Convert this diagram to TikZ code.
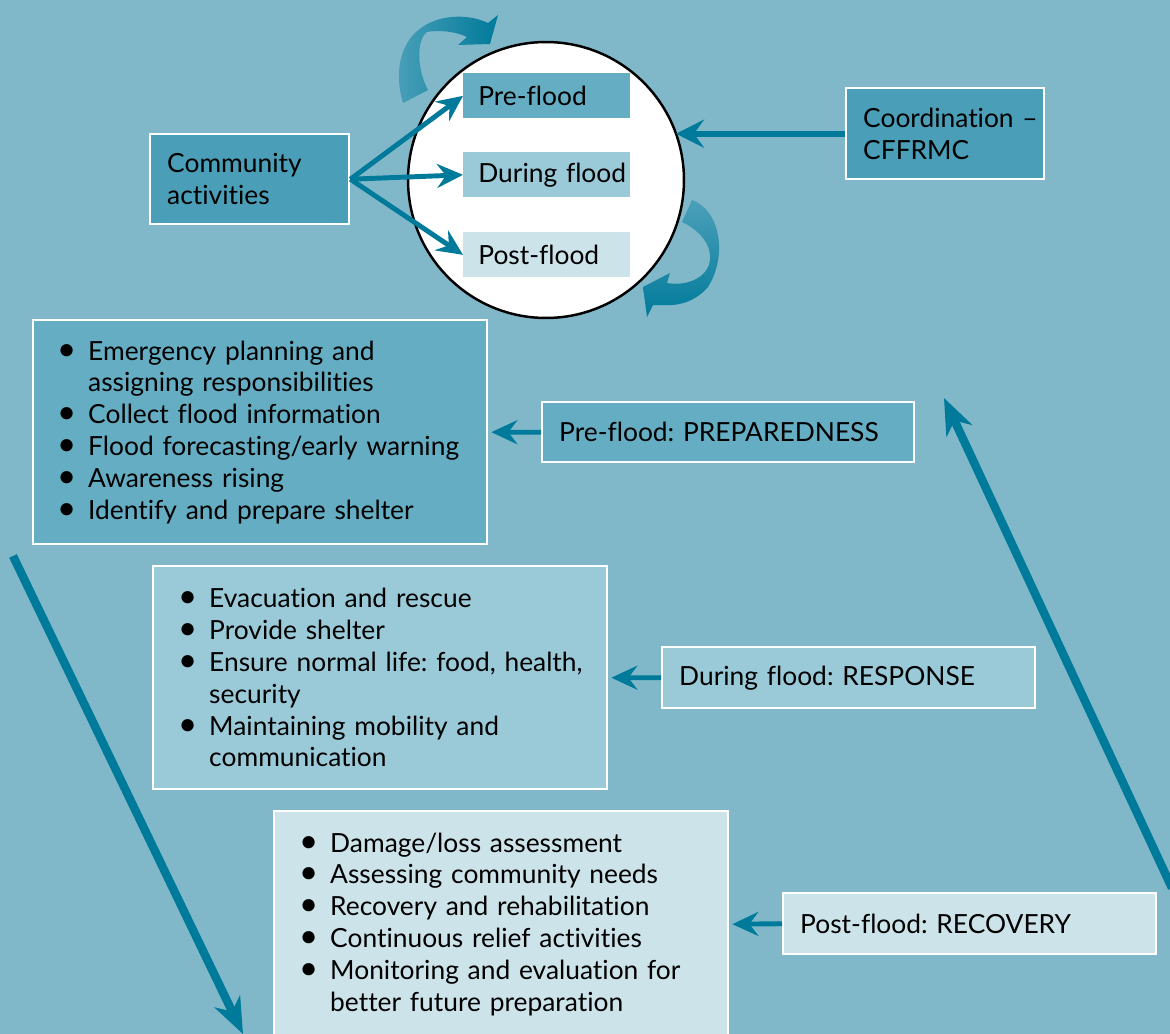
\documentclass[tikz,border=0pt]{standalone}
\usepackage{fontspec}
\setmainfont{Lato}[Ligatures=NoCommon]
\usetikzlibrary{arrows.meta,calc}
\newlength\px \setlength\px{0.02cm}
\definecolor{bgc}{HTML}{80B8CA}
\definecolor{cdark}{HTML}{4A9EB7}
\definecolor{cpre}{HTML}{64ADC3}
\definecolor{cdur}{HTML}{9AC9D8}
\definecolor{cpost}{HTML}{CCE3EA}
\definecolor{arr}{HTML}{007A9A}
\definecolor{arrlight}{HTML}{4CA0B9}
\newcommand\bl{\makebox[31\px][l]{\scalebox{1.25}{\textbullet}}}
\newcommand\ind{\hspace*{31\px}}
\newcommand\lp[1]{\leftskip=#1\px\relax}
\frenchspacing
\tikzset{
  txt/.style={font=\fontsize{15pt}{18.1pt}\selectfont\frenchspacing, text=black},
  box/.style={txt, draw=white, line width=1.4pt, anchor=north west, align=left, inner sep=0pt},
  inbox/.style={txt, anchor=north west, align=left, inner sep=0pt,
     minimum width=3.34cm, minimum height=0.9cm, text width=3.34cm},
  sarrow/.style={draw=arr, line width=2.8pt, -{Stealth[length=0.52cm,width=0.48cm,inset=0.18cm]}},
  carrow/.style={draw=arr, line width=3.6pt, -{Stealth[length=0.56cm,width=0.56cm,inset=0.2cm]}},
  larrow/.style={draw=arr, line width=4.8pt, -{Stealth[length=0.72cm,width=0.56cm,inset=0.22cm]}},
  curvedarrow/.style={draw=none}
}
\begin{document}
\begin{tikzpicture}[x=0.02cm,y=-0.02cm]
\useasboundingbox (0,0) rectangle (1170,1034);
\fill[bgc] (0,0) rectangle (1170,1034);

% long cycle arrows
\coordinate (la1) at (13,556);
\coordinate (la2) at (243,1034);
\coordinate (ra1) at (1172,888);
\coordinate (ra2) at (944,398);
\draw[larrow] (la1) -- (la2);
\draw[larrow] (ra1) -- (ra2);

% curved arrows around the circle
\shade[left color=arrlight, right color=arr, curvedarrow]
  (403,103) .. controls (393,70) and (400,30) .. (440,19)
  .. controls (460,14) and (478,18) .. (488,23) -- (498,15) -- (490,44) -- (458,45) -- (467,37)
  .. controls (455,31) and (437,30) .. (427,32)
  .. controls (416,40) and (417,70) .. (428,90) -- cycle;
\shade[top color=arrlight, bottom color=arr, curvedarrow]
  (692,200) .. controls (720,210) and (728,255) .. (708,287)
  .. controls (697,300) and (680,306) .. (667,305) -- (653,305) -- (647,317) -- (643,287)
  -- (670,273) -- (667,283) .. controls (690,287) and (712,275) .. (710,255)
  .. controls (709,240) and (695,228) .. (682,222) -- cycle;

% circle
\node[circle, draw=black, fill=white, line width=1.4pt, minimum size=5.52cm, inner sep=0pt] (circ) at (546,180) {};

% phase boxes in circle
\node[inbox, fill=cpre] (pre) at (463,73) {\lp{15}Pre-flood\par};
\node[inbox, fill=cdur] (dur) at (463,152) {\lp{15}During flood\par};
\node[inbox, fill=cpost] (post) at (463,232) {\lp{15}Post-flood\par};

% community & coordination
\node[box, fill=cdark, minimum width=3.98cm, minimum height=1.8cm, text width=3.98cm]
  (comm) at (149,133) {\lp{17}Community\\activities\par};
\node[box, fill=cdark, minimum width=3.96cm, minimum height=1.82cm, text width=3.96cm]
  (coord) at (845,87) {\lp{17}Coordination –\\CFFRMC\par};

\draw[sarrow] (comm.east) -- (pre.west);
\draw[sarrow] (comm.east) -- (dur.west);
\draw[sarrow] (comm.east) -- (post.west);
\draw[carrow] (coord.west) -- (coord.west -| circ.21);

% lists
\node[box, fill=cpre, minimum width=9.08cm, minimum height=4.48cm, text width=9.08cm]
  (prep) at (32,319) {\lp{24}\bl Emergency planning and\\\ind assigning responsibilities\\\bl Collect flood information\\\bl Flood forecasting/early warning\\\bl Awareness rising\\\bl Identify and prepare shelter\par};
\node[box, fill=cdur, minimum width=9.08cm, minimum height=4.46cm, text width=9.08cm]
  (resp) at (152,565) {\lp{25}\bl Evacuation and rescue\\\bl Provide shelter\\\bl Ensure normal life: food, health,\\\ind security\\\bl Maintaining mobility and\\\ind communication\par};
\node[box, fill=cpost, minimum width=9.08cm, minimum height=4.52cm, text width=9.08cm]
  (rec) at (273,810) {\lp{25}\bl Damage/loss assessment\\\bl Assessing community needs\\\bl Recovery and rehabilitation\\\bl Continuous relief activities\\\bl Monitoring and evaluation for\\\ind better future preparation\par};

% phase labels
\node[box, fill=cpre, minimum width=7.44cm, minimum height=1.2cm, text width=7.44cm]
  (prepl) at (541,401) {\lp{17}Pre-flood: PREPAREDNESS\par};
\node[box, fill=cdur, minimum width=7.46cm, minimum height=1.22cm, text width=7.46cm]
  (respl) at (661,646) {\lp{17}During flood: RESPONSE\par};
\node[box, fill=cpost, minimum width=7.46cm, minimum height=1.22cm, text width=7.46cm]
  (recl) at (782,892) {\lp{17}Post-flood: RECOVERY\par};

\draw[sarrow] (prepl.west) -- ([xshift=0.06cm]prep.east);
\draw[sarrow] (respl.west) -- ([xshift=0.06cm]resp.east);
\draw[sarrow] (recl.west) -- ([xshift=0.06cm]rec.east);
\end{tikzpicture}
\end{document}
